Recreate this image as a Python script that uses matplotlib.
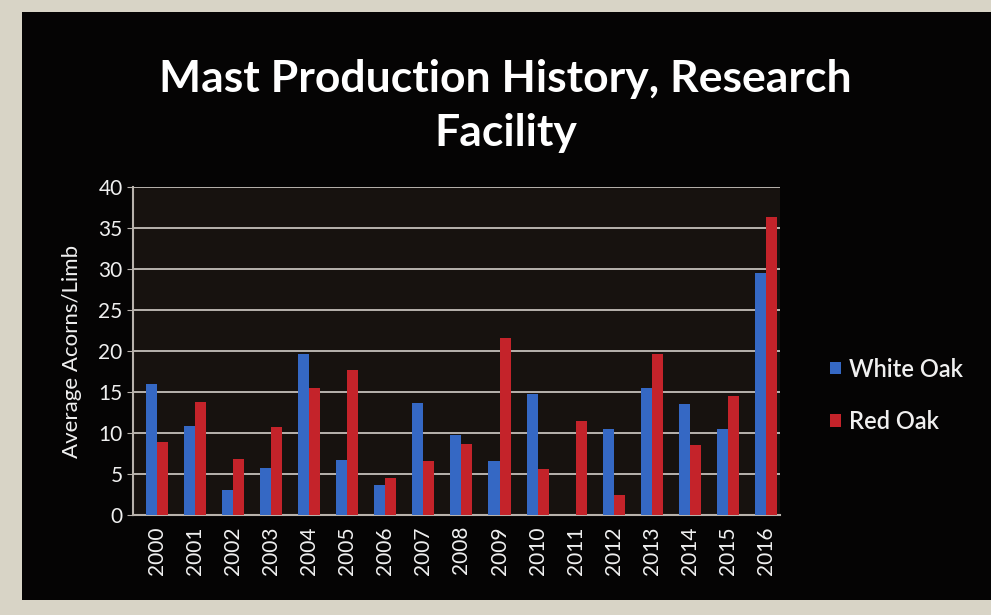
import matplotlib.pyplot as plt
import numpy as np
from matplotlib.patches import Rectangle

years = [str(y) for y in range(2000, 2017)]
white_oak = [16, 10.9, 3, 5.7, 19.6, 6.7, 3.7, 13.7, 9.7, 6.6, 14.7, 0,
             10.5, 15.5, 13.5, 10.5, 29.5]
red_oak = [8.9, 13.8, 6.8, 10.7, 15.5, 17.7, 4.5, 6.6, 8.6, 21.6, 5.6, 11.5,
           2.5, 19.6, 8.5, 14.5, 36.3]

plt.rcParams['font.family'] = ['Lato', 'DejaVu Sans']

fig = plt.figure(figsize=(9.91, 6.15), dpi=100, facecolor='#d8d4c6')
# black chart background (photo of a screen)
fig.patches.append(Rectangle((0.022, 0.025), 0.978, 0.955, transform=fig.transFigure,
                             facecolor='#050404', edgecolor='none', zorder=-10))

ax = fig.add_axes([133 / 991, 1 - 515 / 615, (780 - 133) / 991, (515 - 187) / 615])
ax.set_facecolor('#17120f')

x = np.arange(len(years))
w = 0.29
ax.bar(x - 0.145, white_oak, w, color='#3568c4', label='White Oak', zorder=3)
ax.bar(x + 0.145, red_oak, w, color='#c4232a', label='Red Oak', zorder=3)

ax.set_ylim(0, 40)
ax.set_yticks(range(0, 41, 5))
ax.set_xlim(-0.63, len(years) - 0.63)
ax.set_xticks(x)
ax.set_xticklabels(years, rotation=90)
ax.grid(axis='y', color='#c4bfba', linewidth=1.3, zorder=1)
ax.tick_params(axis='y', colors='#f0f0f0', labelsize=15, length=4, color='#b8b2ac')
ax.tick_params(axis='x', colors='#f0f0f0', labelsize=15, length=0, pad=8)
for s in ['top', 'right']:
    ax.spines[s].set_visible(False)
for s in ['left', 'bottom']:
    ax.spines[s].set_color('#b8b2ac')
    ax.spines[s].set_linewidth(1.5)

ax.set_ylabel('Average Acorns/Limb', color='#f0f0f0', fontsize=16, labelpad=12)

fig.text(0.51, 0.752, 'Mast Production History, Research\nFacility', color='white',
         fontsize=32, fontweight='bold', ha='center', va='bottom', linespacing=1.4)

ax.legend(loc='center left', bbox_to_anchor=(1.045, 0.365), frameon=False,
          prop={'size': 17, 'weight': 'semibold'}, labelcolor='#f0f0f0',
          handlelength=0.45, handleheight=0.45, labelspacing=1.25, handletextpad=0.35)

fig.savefig('out.png', dpi=100, facecolor=fig.get_facecolor())
